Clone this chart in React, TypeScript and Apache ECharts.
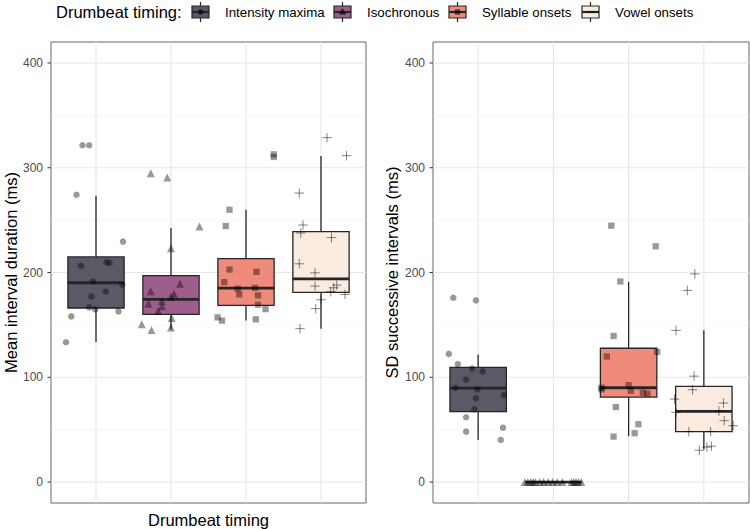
import React, { useEffect, useRef } from "react";
import * as echarts from "echarts";

// ---------- data ----------
const groups = ["Intensity maxima", "Isochronous", "Syllable onsets", "Vowel onsets"];
const yTicks = [0, 100, 200, 300, 400];
const yMinor = [50, 150, 250, 350];

// box stats: [lower whisker, Q1, median, Q3, upper whisker]
const meanBoxes = [
  [133.7, 166.1, 190.2, 214.9, 273.2],
  [145.8, 160.0, 174.3, 197.1, 242.5],
  [154.3, 168.6, 185.1, 213.3, 259.9],
  [146.4, 181.0, 194.0, 239.0, 311.2],
];
const sdBoxes = [
  [40.2, 67.2, 89.7, 109.4, 121.7],
  [0, 0, 0, 0, 0],
  [43.7, 81.1, 90.0, 127.7, 191.1],
  [31.0, 48.1, 67.5, 91.3, 144.8],
];

// Mean interval duration, per participant (jitter = horizontal offset)
const meanIntensity = [321.4, 321.4, 274.2, 229.5, 206.3, 209.8, 209.1, 191.4, 188.3, 177.2, 181.9, 166.7, 164.8, 162.9, 158.1, 133.4];
const meanIntensityJitter = [-0.18, -0.09, -0.26, 0.36, -0.2, 0.14, 0.18, -0.04, 0.35, -0.06, 0.13, -0.09, -0.01, 0.3, -0.33, -0.4];
const meanIso = [294.8, 290.6, 244.0, 223.1, 189.2, 182.2, 179.7, 176.9, 172.7, 170.2, 167.9, 163.2, 156.5, 150.5, 145.1, 147.4];
const meanIsoJitter = [-0.27, -0.05, 0.38, 0.0, 0.12, -0.27, 0.04, 0.0, -0.12, -0.3, -0.12, -0.17, 0.01, -0.39, -0.26, 0.0];
const meanSyl = [312.8, 310.3, 259.9, 244.4, 202.8, 200.6, 190.8, 184.5, 185.4, 179.1, 178.1, 169.2, 165.1, 157.2, 154.1, 155.3];
const meanSylJitter = [0.37, 0.37, -0.22, -0.27, -0.22, 0.14, -0.29, -0.11, 0.12, -0.09, 0.16, 0.16, 0.26, -0.38, -0.32, 0.13];
const meanVowel = [328.7, 311.5, 275.8, 245.3, 237.7, 233.3, 208.3, 199.7, 187.0, 188.0, 185.4, 181.6, 179.1, 174.0, 165.5, 146.4];
const meanVowelJitter = [0.08, 0.34, -0.29, -0.24, -0.27, 0.14, -0.29, -0.08, -0.08, 0.21, 0.17, 0.13, 0.32, 0.0, -0.07, -0.28];

// SD of successive intervals
const sdIntensity = [175.9, 173.4, 122.3, 112.5, 108.4, 105.5, 97.9, 90.0, 88.4, 83.0, 79.9, 69.4, 61.8, 51.9, 48.1, 40.2];
const sdIntensityJitter = [-0.33, -0.03, -0.39, -0.27, -0.08, 0.06, -0.16, -0.3, -0.01, 0.34, -0.03, -0.05, -0.16, 0.33, -0.16, 0.3];
const sdIso = [0, 0, 0, 0, 0, 0, 0, 0, 0, 0, 0, 0, 0, 0, 0, 0];
const sdIsoJitter = [-0.38, -0.34, -0.3, -0.27, -0.24, -0.18, -0.13, -0.07, -0.01, 0.05, 0.12, 0.24, 0.27, 0.3, 0.33, 0.37];
const sdSyl = [244.7, 225.0, 191.4, 139.4, 119.8, 124.2, 90.0, 88.5, 92.5, 87.1, 85.2, 84.3, 71.6, 55.2, 46.6, 43.4];
const sdSylJitter = [-0.23, 0.36, -0.11, -0.2, -0.29, 0.38, -0.36, -0.36, 0.0, 0.03, 0.19, 0.25, -0.17, 0.13, 0.08, -0.2];
const sdVowel = [198.7, 182.9, 144.8, 101.1, 88.1, 79.2, 66.6, 67.8, 75.4, 58.6, 53.8, 48.1, 48.1, 30.4, 33.3, 34.2];
const sdVowelJitter = [-0.12, -0.22, -0.37, -0.13, -0.15, -0.39, -0.37, 0.2, 0.26, 0.27, 0.39, -0.2, 0.09, -0.06, 0.04, 0.1];

// ---------- styles ----------
const boxFill = ["#5a5a67", "#9e5e8b", "#f08a7b", "#f9ebdf"];
const FONT = "'Liberation Sans', Arial, Helvetica, sans-serif";
const PLUS = "path://M5,0 L5,10 M0,5 L10,5";
const pointColor = "rgba(0,0,0,0.5)";

const symbols = ["circle", "triangle", "rect", PLUS];
const symbolSizes = [6.5, 8, 6.3, 9.5];

function pts(vals: number[], jit: number[], i: number) {
  return vals.map((v, k) => [i + 1 + jit[k], v]);
}

export default function App() {
  const ref = useRef<HTMLDivElement>(null);
  useEffect(() => {
    if (!ref.current) return;
    const chart = echarts.init(ref.current, undefined, { renderer: "svg" });

    const gridLines = (idx: number) => ({
      type: "custom",
      xAxisIndex: idx,
      yAxisIndex: idx,
      silent: true,
      z: 1,
      data: [[1, 0]],
      renderItem: (_p: any, api: any) => {
        const children: any[] = [];
        const [xl, yt] = api.coord([0.4, 420]);
        const [xr, yb] = api.coord([4.6, -20]);
        yMinor.forEach((v) => {
          const y = api.coord([1, v])[1];
          children.push({ type: "line", shape: { x1: xl, y1: y, x2: xr, y2: y }, style: { stroke: "#f2f2f2", lineWidth: 0.6 } });
        });
        yTicks.forEach((v) => {
          const y = api.coord([1, v])[1];
          children.push({ type: "line", shape: { x1: xl, y1: y, x2: xr, y2: y }, style: { stroke: "#e6e6e6", lineWidth: 1.1 } });
          // outside tick mark
          children.push({ type: "line", shape: { x1: xl - 3.5, y1: y, x2: xl, y2: y }, style: { stroke: "#333", lineWidth: 1 } });
        });
        groups.forEach((_g, i) => {
          const x = api.coord([i + 1, 0])[0];
          children.push({ type: "line", shape: { x1: x, y1: yt, x2: x, y2: yb }, style: { stroke: "#e6e6e6", lineWidth: 1.1 } });
        });
        return { type: "group", children };
      },
    });

    const boxSeries = (idx: number, stats: number[][]) => ({
      type: "custom",
      xAxisIndex: idx,
      yAxisIndex: idx,
      silent: true,
      z: 2,
      encode: { x: 0, y: [1, 2, 3, 4, 5] },
      data: stats.map((s, i) => [i + 1, ...s]),
      renderItem: (params: any, api: any) => {
        const x = api.value(0);
        const lo = api.value(1), q1 = api.value(2), md = api.value(3), q3 = api.value(4), hi = api.value(5);
        const cx = api.coord([x, md])[0];
        const xl = api.coord([x - 0.375, md])[0];
        const xr = api.coord([x + 0.375, md])[0];
        const yLo = api.coord([x, lo])[1];
        const yQ1 = api.coord([x, q1])[1];
        const yMd = api.coord([x, md])[1];
        const yQ3 = api.coord([x, q3])[1];
        const yHi = api.coord([x, hi])[1];
        const stroke = "#262626";
        return {
          type: "group",
          children: [
            { type: "line", shape: { x1: cx, y1: yHi, x2: cx, y2: yQ3 }, style: { stroke, lineWidth: 1.3 } },
            { type: "line", shape: { x1: cx, y1: yQ1, x2: cx, y2: yLo }, style: { stroke, lineWidth: 1.3 } },
            { type: "rect", shape: { x: xl, y: yQ3, width: xr - xl, height: yQ1 - yQ3 }, style: { fill: boxFill[params.dataIndex], stroke, lineWidth: 1.3 } },
            { type: "line", shape: { x1: xl, y1: yMd, x2: xr, y2: yMd }, style: { stroke, lineWidth: 2.8 } },
          ],
        };
      },
    });

    const scatter = (idx: number, i: number, data: number[][]) => ({
      type: "scatter",
      xAxisIndex: idx,
      yAxisIndex: idx,
      silent: true,
      z: 3,
      symbol: symbols[i],
      symbolSize: symbolSizes[i],
      itemStyle:
        i === 3
          ? { color: "none", borderColor: "rgba(0,0,0,0.6)", borderWidth: 1 }
          : { color: pointColor },
      data,
    });

    const yAxisBase = (gridIndex: number, name: string, nameGap: number) => ({
      type: "value",
      gridIndex,
      min: -20,
      max: 420,
      name,
      nameLocation: "middle",
      nameGap,
      nameTextStyle: { fontFamily: FONT, fontSize: 16.5, color: "#000" },
      axisLine: { show: false },
      axisTick: { show: false },
      axisLabel: {
        customValues: yTicks,
        color: "#4d4d4d",
        fontFamily: FONT,
        fontSize: 12,
        margin: 8,
        formatter: (v: number) => (v % 100 === 0 && v >= 0 && v <= 400 ? String(v) : ""),
      },
      splitLine: { show: false },
    });

    const xAxisBase = (gridIndex: number, name: string) => ({
      type: "value",
      gridIndex,
      min: 0.4,
      max: 4.6,
      name,
      nameLocation: "middle",
      nameGap: 16.5,
      nameTextStyle: { fontFamily: FONT, fontSize: 16.5, color: "#000", verticalAlign: "middle" },
      axisLine: { show: false },
      axisTick: { show: false },
      axisLabel: { show: false },
      splitLine: { show: false },
    });

    // legend (graphic)
    const legendKeyX = [192, 334, 449, 582];
    const legendChildren: any[] = [
      { type: "text", x: 56, y: 12, style: { text: "Drumbeat timing:", fontFamily: FONT, fontSize: 16.5, fill: "#000", verticalAlign: "middle" } },
    ];
    groups.forEach((g, i) => {
      const x = legendKeyX[i];
      const cx = x + 8.5;
      legendChildren.push(
        { type: "line", shape: { x1: cx, y1: 2, x2: cx, y2: 22 }, style: { stroke: "#262626", lineWidth: 1.2 } },
        { type: "rect", shape: { x, y: 6, width: 17, height: 12 }, style: { fill: boxFill[i], stroke: "#262626", lineWidth: 1.2 } },
        { type: "line", shape: { x1: x, y1: 12, x2: x + 17, y2: 12 }, style: { stroke: "#262626", lineWidth: 2.2 } }
      );
      if (i === 0) legendChildren.push({ type: "circle", shape: { cx, cy: 12, r: 2.8 }, style: { fill: "rgba(0,0,0,0.6)" } });
      if (i === 1) legendChildren.push({ type: "polygon", shape: { points: [[cx, 8], [cx - 3.6, 14.5], [cx + 3.6, 14.5]] }, style: { fill: "rgba(0,0,0,0.7)" } });
      if (i === 2) legendChildren.push({ type: "rect", shape: { x: cx - 2.7, y: 9.3, width: 5.4, height: 5.4 }, style: { fill: "rgba(0,0,0,0.6)" } });
      if (i === 3) legendChildren.push({ type: "line", shape: { x1: cx - 4.5, y1: 12, x2: cx + 4.5, y2: 12 }, style: { stroke: "rgba(0,0,0,0.6)", lineWidth: 1 } });
      legendChildren.push({
        type: "text",
        x: x + 33,
        y: 12,
        style: { text: g, fontFamily: FONT, fontSize: 13.3, fill: "#000", verticalAlign: "middle" },
      });
    });

    chart.setOption({
      animation: false,
      backgroundColor: "#fff",
      grid: [
        { left: 51, top: 42, width: 315, height: 461, show: true, borderColor: "#666", borderWidth: 1, backgroundColor: "#fff", outerBoundsMode: "none", containLabel: false },
        { left: 433, top: 42, width: 316, height: 461, show: true, borderColor: "#666", borderWidth: 1, backgroundColor: "#fff", outerBoundsMode: "none", containLabel: false },
      ],
      xAxis: [xAxisBase(0, "Drumbeat timing"), xAxisBase(1, "")],
      yAxis: [yAxisBase(0, "Mean interval duration (ms)", 21), yAxisBase(1, "SD successive intervals (ms)", 33)],
      graphic: [{ type: "group", children: legendChildren }],
      series: [
        gridLines(0),
        gridLines(1),
        boxSeries(0, meanBoxes),
        boxSeries(1, sdBoxes),
        scatter(0, 0, pts(meanIntensity, meanIntensityJitter, 0)),
        scatter(0, 1, pts(meanIso, meanIsoJitter, 1)),
        scatter(0, 2, pts(meanSyl, meanSylJitter, 2)),
        scatter(0, 3, pts(meanVowel, meanVowelJitter, 3)),
        scatter(1, 0, pts(sdIntensity, sdIntensityJitter, 0)),
        scatter(1, 1, pts(sdIso, sdIsoJitter, 1)),
        scatter(1, 2, pts(sdSyl, sdSylJitter, 2)),
        scatter(1, 3, pts(sdVowel, sdVowelJitter, 3)),
      ],
    });
    return () => chart.dispose();
  }, []);
  return <div ref={ref} style={{ width: 750, height: 529, position: "absolute", left: 0, top: 0 }} />;
}
